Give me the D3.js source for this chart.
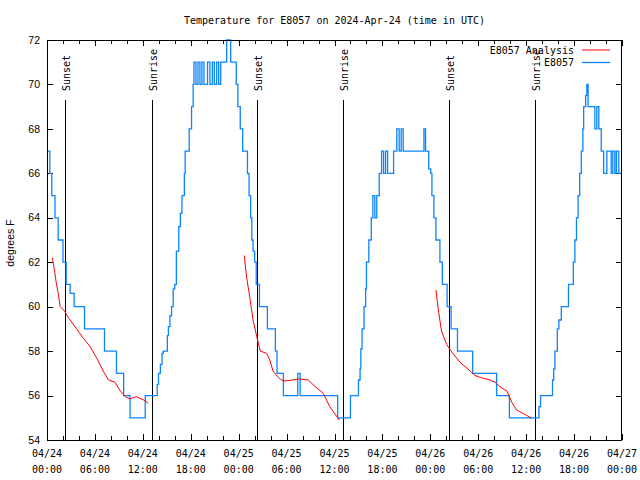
<!DOCTYPE html>
<html><head><meta charset="utf-8">
<script src="https://cdn.jsdelivr.net/npm/d3@7/dist/d3.min.js"></script>
<style>body{margin:0;background:#fff}svg{display:block}</style>
</head><body><svg id="c" width="640" height="480"></svg>
<script>
// ---- data (hours after 2024-04-24 00:00 UTC, degrees F) ----
const titleText = "Temperature for E8057 on 2024-Apr-24 (time in UTC)";
const yTicks = [54,56,58,60,62,64,66,68,70,72];
const sunsetHours = [2.25, 26.27, 50.3];
const sunriseHours = [13.1, 37.12, 61.05];

const obsHours = [0.1,0.35,0.6,1.0,1.4,2.0,2.4,2.9,3.4,4.7,7.2,8.7,9.6,10.4,12.3,
 13.8,13.96,14.2,14.4,14.56,15.07,15.2,15.4,15.6,15.8,16.0,16.2,16.5,16.7,16.9,17.2,17.3,17.8,18.1,18.3,
 18.4,18.65,18.9,19.15,19.4,19.65,20.1,20.4,20.7,20.95,21.25,21.5,21.75,22.5,23.0,23.7,23.9,24.2,24.5,
 25.1,25.3,25.5,25.65,25.8,26.0,26.2,26.6,27.6,28.6,28.8,29.6,31.4,31.7,36.4,38.0,
 39.0,39.2,39.3,39.45,39.7,39.9,40.0,40.3,40.6,40.8,41.05,41.3,41.6,41.9,42.15,42.4,42.65,
 43.4,43.8,44.1,44.35,44.6,47.2,47.4,47.8,48.05,48.2,48.45,48.7,49.2,49.5,50.1,50.6,51.4,53.3,56.3,57.9,
 61.6,61.8,63.3,63.45,63.6,63.9,64.1,64.4,65.3,65.9,66.1,66.3,66.5,66.7,66.9,67.1,67.2,67.45,67.6,67.75,
 68.6,68.85,69.1,69.4,69.7,70.1,70.65,70.85,71.1,71.3,71.6,71.85];
const obsTemps = [67,66,65,64,63,62,61,60.6,60,59,58,57,56,55,56,
 56.5,57,57.4,57.9,58,58.7,59.1,59.6,60,60.8,61,62.5,63.6,64.2,65,66,67,68,69,70,
 71,70,71,70,71,70,71,70,71,70,71,70,71,72,71,70,69,68,67,
 66,65,64,63,62.5,62,61,60,59,58,57,56,57,56,55,56,
 56.7,57.2,58.1,59,60,60.8,62,63,64,65,64,65,66,67,66,67,66,
 67,68,67,68,67,68,67,66.2,66,65,64,63,62,61,60,59,58,57,56,55,
 55.5,56,56.7,57.2,58,59,59.4,60,61,62,63,64,65,66,67,68,69,69.5,70,69,
 68,69,68,67,66,67,66,67,66,67,66,66];

const anaHours1 = [0.67,0.9,1.15,1.4,1.65,2.2,2.7,3.7,4.5,5.4,6.2,7.05,7.7,8.5,9.1,9.8,10.4,11.2,12.1,12.7];
const anaTemps1 = [62.2,61.7,61.1,60.6,60.0,59.8,59.5,59.0,58.6,58.2,57.7,57.1,56.7,56.6,56.25,55.95,55.85,55.95,55.8,55.65];
const anaHours2 = [24.7,25.0,25.4,25.8,26.3,26.7,27.5,27.9,28.3,29.0,29.6,30.8,31.5,32.7,33.6,34.6,35.4,36.6];
const anaTemps2 = [62.3,61.3,60.4,59.4,58.6,58.0,57.9,57.6,57.1,56.8,56.65,56.7,56.75,56.7,56.4,56.1,55.5,54.9];
const anaHours3 = [48.7,49.0,49.4,50.05,50.7,51.7,53.0,53.6,54.4,55.5,56.1,56.7,57.6,58.2,58.8,60.1,60.7];
const anaTemps3 = [60.75,59.85,58.9,58.3,57.95,57.5,57.1,56.9,56.8,56.7,56.6,56.4,56.2,55.7,55.35,55.1,54.97];

// ---- drawing ----
const t0 = Date.UTC(2024,3,24);
const toDate = h => new Date(t0 + h*3600e3);
const L=47, R=622, T=40, B=440;
const svg = d3.select("#c");
const x = d3.scaleUtc().domain([toDate(0), toDate(72)]).range([L,R]);
const y = d3.scaleLinear().domain([54,72]).range([B,T]);
const mono = "'DejaVu Sans Mono', monospace";
const sans = "'Liberation Sans', Arial, sans-serif";

svg.append("text").attr("x",334.5).attr("y",24).attr("text-anchor","middle")
  .attr("font-family",mono).attr("font-size",10).text(titleText);

// axes ticks
const allTicks = d3.utcHour.every(2).range(toDate(0), toDate(72.01));
const g = svg.append("g").attr("stroke","#000").attr("stroke-width",1).attr("shape-rendering","crispEdges");
allTicks.forEach(d=>{
  const xx = Math.round(x(d))+0.5;
  const major = d.getUTCHours()%6===0;
  const len = major?6:4;
  g.append("line").attr("x1",xx).attr("x2",xx).attr("y1",B).attr("y2",B-len);
  g.append("line").attr("x1",xx).attr("x2",xx).attr("y1",T).attr("y2",T+len);
});
yTicks.forEach(v=>{
  const yy = Math.round(y(v))+0.5;
  g.append("line").attr("x1",L).attr("x2",L+6).attr("y1",yy).attr("y2",yy);
  g.append("line").attr("x1",R).attr("x2",R-6).attr("y1",yy).attr("y2",yy);
});
// x labels
const fmtD = d3.utcFormat("%m/%d"), fmtT = d3.utcFormat("%H:%M");
d3.utcHour.every(6).range(toDate(0), toDate(72.01)).forEach(d=>{
  const t = svg.append("text").attr("x",x(d)).attr("text-anchor","middle")
    .attr("font-family",mono).attr("font-size",10);
  t.append("tspan").attr("x",x(d)).attr("y",457).text(fmtD(d));
  t.append("tspan").attr("x",x(d)).attr("y",473).text(fmtT(d));
});
// y labels
yTicks.forEach(v=>{
  svg.append("text").attr("x",40).attr("y",y(v)).attr("dy","0.35em").attr("text-anchor","end")
    .attr("font-family",sans).attr("font-size",10.5).text(v);
});
svg.append("text").attr("transform","translate(14,243) rotate(-90)").attr("text-anchor","middle")
  .attr("font-family",sans).attr("font-size",10.5).text("degrees F");

// sunrise/sunset lines
function event(h,label){
  const xx = Math.round(x(toDate(h)))+0.5;
  svg.append("line").attr("x1",xx).attr("x2",xx).attr("y1",100).attr("y2",B)
    .attr("stroke","#000").attr("stroke-width",1).attr("shape-rendering","crispEdges");
  svg.append("text").attr("transform",`translate(${xx+4.5},91) rotate(-90)`).attr("text-anchor","start")
    .attr("font-family",mono).attr("font-size",10).text(label);
}
sunsetHours.forEach(h=>event(h,"Sunset"));
sunriseHours.forEach(h=>event(h,"Sunrise"));

// data lines
const blueLine = d3.line().x(d=>x(toDate(d[0]))).y(d=>y(d[1])).curve(d3.curveStepAfter);
const blueData = obsHours.map((h,i)=>[h,obsTemps[i]]);
svg.append("path").datum(blueData).attr("d",blueLine).attr("fill","none")
  .attr("stroke","#0a84ff").attr("stroke-width",1.3);
const redLine = d3.line().x(d=>x(toDate(d[0]))).y(d=>y(d[1]));
[[anaHours1,anaTemps1],[anaHours2,anaTemps2],[anaHours3,anaTemps3]].forEach(([hs,ts])=>{
  svg.append("path").datum(hs.map((h,i)=>[h,ts[i]])).attr("d",redLine).attr("fill","none")
    .attr("stroke","#ff0000").attr("stroke-width",1);
});

// frame
svg.append("rect").attr("x",L+0.5).attr("y",T+0.5).attr("width",R-L-1).attr("height",B-T)
  .attr("fill","none").attr("stroke","#000").attr("shape-rendering","crispEdges");

// legend
const leg = [["E8057 Analysis","#ff0000",50],["E8057","#0a84ff",62.5]];
leg.forEach(([t,c,yy])=>{
  svg.append("text").attr("x",574).attr("y",yy).attr("dy","0.35em").attr("text-anchor","end")
    .attr("font-family",mono).attr("font-size",10).text(t);
  svg.append("line").attr("x1",582).attr("x2",610).attr("y1",yy).attr("y2",yy)
    .attr("stroke",c).attr("stroke-width",c==="#ff0000"?1:1.3);
});
</script></body></html>
